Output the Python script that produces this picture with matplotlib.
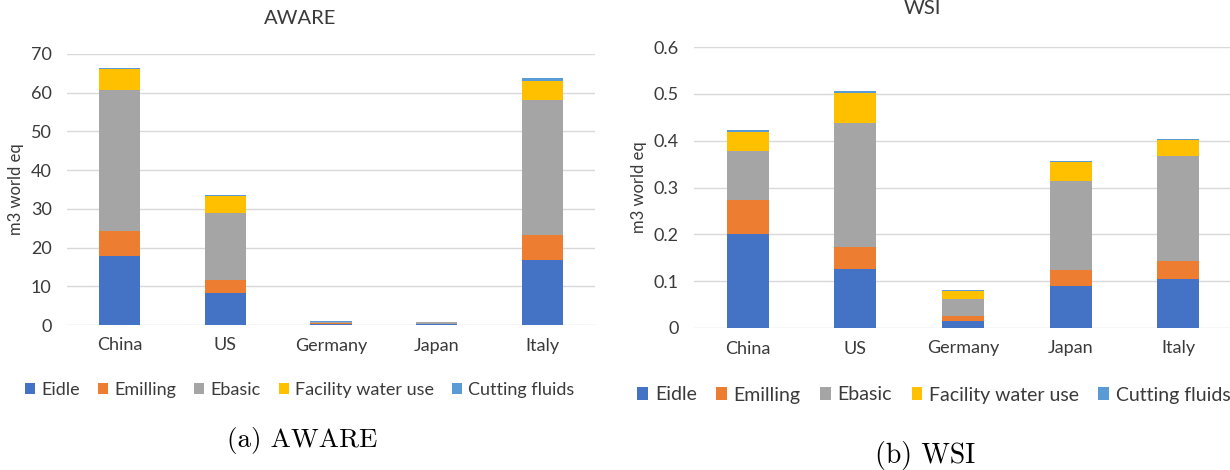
import matplotlib
matplotlib.use("Agg")
import matplotlib.pyplot as plt
import numpy as np
from matplotlib.patches import Patch

countries = ["China", "US", "Germany", "Japan", "Italy"]
series = ["Eidle", "Emilling", "Ebasic", "Facility water use", "Cutting fluids"]
colors = ["#4472C4", "#ED7D31", "#A5A5A5", "#FFC000", "#5B9BD5"]

# AWARE (m3 world eq)
aware_eidle = [17.8, 8.3, 0.2, 0.15, 16.9]
aware_emilling = [6.4, 3.3, 0.25, 0.1, 6.3]
aware_ebasic = [36.4, 17.4, 0.35, 0.4, 34.8]
aware_facility = [5.4, 4.3, 0.1, 0.1, 5.1]
aware_cutting = [0.4, 0.2, 0.05, 0.05, 0.6]

# WSI (m3 world eq)
wsi_eidle = [0.200, 0.126, 0.016, 0.090, 0.105]
wsi_emilling = [0.074, 0.047, 0.009, 0.033, 0.037]
wsi_ebasic = [0.103, 0.264, 0.037, 0.190, 0.225]
wsi_facility = [0.041, 0.065, 0.018, 0.041, 0.034]
wsi_cutting = [0.004, 0.003, 0.001, 0.003, 0.002]

aware_ticks = [0, 10, 20, 30, 40, 50, 60, 70]
wsi_ticks = [0, 0.1, 0.2, 0.3, 0.4, 0.5, 0.6]
wsi_ticklabels = ["0", "0.1", "0.2", "0.3", "0.4", "0.5", "0.6"]

FONT = "Lato"
plt.rcParams["font.family"] = [FONT, "DejaVu Sans"]
TXT = "#3A3A3A"

fig = plt.figure(figsize=(12.3, 4.7), dpi=100)

def draw(ax, data, ticks, ticklabels, ymax, fs):
    x = np.arange(len(countries))
    bottom = np.zeros(len(countries))
    for vals, col in zip(data, colors):
        ax.bar(x, vals, bottom=bottom, width=0.39, color=col, zorder=3)
        bottom = bottom + np.array(vals)
    ax.set_xlim(-0.5, len(countries) - 0.5)
    ax.set_ylim(0, ymax)
    ax.set_yticks(ticks)
    ax.set_yticklabels(ticklabels)
    ax.set_xticks(x)
    ax.set_xticklabels(countries)
    ax.grid(axis="y", color="#D9D9D9", linewidth=1.0, zorder=0)
    for s in ax.spines.values():
        s.set_visible(False)
    ax.tick_params(axis="both", length=0, labelsize=fs, labelcolor=TXT)
    ax.tick_params(axis="y", pad=11)
    ax.tick_params(axis="x", pad=9)
    ax.set_ylabel("m3 world eq", fontsize=12, color=TXT, labelpad=5)

ax1 = fig.add_axes([67 / 1230, 1 - 325 / 470, 528 / 1230, 271 / 470])
draw(ax1, [aware_eidle, aware_emilling, aware_ebasic, aware_facility, aware_cutting],
     aware_ticks, [str(t) for t in aware_ticks], 70, 13)

ax2 = fig.add_axes([694 / 1230, 1 - 328 / 470, 538 / 1230, 281 / 470])
draw(ax2, [wsi_eidle, wsi_emilling, wsi_ebasic, wsi_facility, wsi_cutting],
     wsi_ticks, wsi_ticklabels, 0.6, 13)

fig.text(300 / 1230, 1 - 18 / 470, "AWARE", ha="center", va="center", fontsize=14.5, color=TXT)
fig.text(922 / 1230, 1 - 8 / 470, "WSI", ha="center", va="center", fontsize=14.5, color=TXT)

handles = [Patch(facecolor=c, edgecolor="none") for c in colors]
fig.legend(handles, series, loc="center", bbox_to_anchor=(300 / 1230, 1 - 390 / 470),
           ncol=5, frameon=False, fontsize=13, handlelength=0.55, handleheight=0.6,
           handletextpad=0.35, columnspacing=1.0, labelcolor=TXT)
fig.legend(handles, series, loc="center", bbox_to_anchor=(934 / 1230, 1 - 395 / 470),
           ncol=5, frameon=False, fontsize=14, handlelength=0.55, handleheight=0.6,
           handletextpad=0.35, columnspacing=1.0, labelcolor=TXT)

fig.text(302 / 1230, 1 - 440 / 470, "(a) AWARE", ha="center", va="center",
         fontsize=19.5, family="cmr10", color="black")
fig.text(925 / 1230, 1 - 455 / 470, "(b) WSI", ha="center", va="center",
         fontsize=20, family="cmr10", color="black")

fig.savefig("out.png", dpi=100)
